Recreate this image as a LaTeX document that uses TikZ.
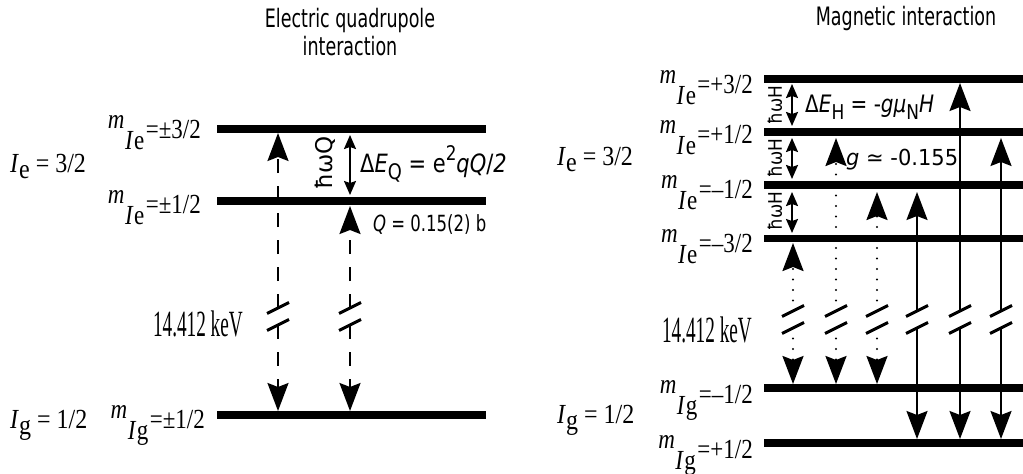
\documentclass[tikz,border=0pt]{standalone}
\usepackage{fontspec}
\setmainfont{Liberation Serif}
\newfontfamily\djv{DejaVu Sans}
\usetikzlibrary{arrows.meta}
\newcommand\vsc[2]{\scalebox{1}[#1]{#2}}
\newcommand\lo[1]{\raisebox{-0.28em}{\scalebox{0.85}{#1}}}
\newcommand\hi[1]{\raisebox{0.45em}{\scalebox{0.8}{#1}}}
\newcommand\mlab[2]{\vsc{1.2}{\raisebox{0.36em}{\textit{m}}\kern0.5pt\raisebox{-0.42em}{\textit{I}\kern0.5pt#1}\kern1.5pt=#2}}
\newcommand\biglab[2]{\vsc{1.15}{\textit{I}\raisebox{-0.25em}{#1}\ =\ #2}}
\begin{document}
\begin{tikzpicture}[x=1pt,y=-1pt,
  lvl/.style={line width=7.5pt},
  tr/.style={line width=2pt},
  tipb/.style={-{Stealth[length=28pt,width=21pt,inset=4pt]}},
  dsh/.style={dash pattern=on 14pt off 13pt},
  dts/.style={line cap=round,dash pattern=on 0pt off 10.5pt,line width=2.4pt},
  brk/.style={line width=3pt},
  sm/.style={line width=1.8pt,{Stealth[length=14pt,width=12pt,inset=2pt]}-{Stealth[length=14pt,width=12pt,inset=2pt]}},
  ttl/.style={font=\djv\fontsize{17.5}{28}\selectfont,align=center},
  ser/.style={font=\fontsize{23}{26}\selectfont,inner sep=0pt},
  bser/.style={font=\fontsize{24}{30}\selectfont,inner sep=0pt},
  kev/.style={font=\fontsize{37}{40}\selectfont,inner sep=0pt},
  dj/.style={font=\djv\fontsize{21}{24}\selectfont,inner sep=0pt},
  djs/.style={font=\djv\fontsize{16.5}{18}\selectfont,inner sep=0pt},
  djr/.style={font=\djv\fontsize{23}{24}\selectfont,inner sep=0pt,rotate=90}
]
\useasboundingbox (0,0) rectangle (1023,474);
% titles
\node[ttl] (t1) at (350,32) {\vsc{1.45}{Electric quadrupole}\\\vsc{1.45}{interaction}};
\node[ttl] (t2) at (906,18) {\vsc{1.45}{Magnetic interaction}};
% ---------------- left panel levels
\coordinate (L3a) at (217,129); \coordinate (L3b) at (486,129);
\coordinate (L1a) at (217,201); \coordinate (L1b) at (486,201);
\coordinate (Lga) at (217,415); \coordinate (Lgb) at (486,415);
\draw[lvl] (L3a) -- (L3b);
\draw[lvl] (L1a) -- (L1b);
\draw[lvl] (Lga) -- (Lgb);
% left labels
\node[bser,anchor=base west] (le) at (10,172) {\biglab{e}{3/2}};
\node[bser,anchor=base west] (lg) at (10,428) {\biglab{g}{1/2}};
\node[ser,anchor=base east] (m1) at (201,138) {\mlab{e}{±3/2}};
\node[ser,anchor=base east] (m2) at (201,213) {\mlab{e}{±1/2}};
\node[ser,anchor=base east] (m3) at (205,428) {\mlab{g}{±1/2}};
\node[kev,anchor=base east] (k1) at (243,336) {\scalebox{0.52}[1]{14.412 keV}};
% left arrows
\coordinate (A1t) at (278,133); \coordinate (A1b) at (278,411);
\coordinate (A1u) at (278,308); \coordinate (A1d) at (278,325);
\draw[tr,dsh,tipb] (A1u) -- (A1t);
\draw[tr,dsh,tipb] (A1d) -- (A1b);
\coordinate (A2t) at (350,206); \coordinate (A2b) at (350,411);
\coordinate (A2u) at (350,308); \coordinate (A2d) at (350,325);
\draw[tr,dsh,tipb] (A2u) -- (A2t);
\draw[tr,dsh,tipb] (A2d) -- (A2b);
\foreach \p in {A1u,A1d,A2u,A2d}
  \draw[brk] ([shift={(-11,5.5)}]\p) -- ([shift={(11,-5.5)}]\p);
\coordinate (Q1) at (350,135); \coordinate (Q2) at (350,195);
\draw[sm] (Q1) -- (Q2);
\node[djr] (hq) at (325,163) {\vsc{1.0}{ħωQ}};
\node[dj,anchor=west] (dq) at (360,164) {\vsc{1.2}{Δ\textit{E}\lo{Q} = e\hi{2}\textit{qQ}/\textit{2}}};
\node[djs,anchor=west] (qq) at (373,225) {\vsc{1.35}{\textit{Q} = 0.15(2) b}};
% ---------------- right panel levels
\coordinate (R3a) at (764,79);  \coordinate (R3b) at (1023,79);
\coordinate (R1a) at (764,132); \coordinate (R1b) at (1023,132);
\coordinate (Rma) at (764,185); \coordinate (Rmb) at (1023,185);
\coordinate (Rna) at (764,238.5); \coordinate (Rnb) at (1023,238.5);
\coordinate (Gma) at (764,388); \coordinate (Gmb) at (1023,388);
\coordinate (Gpa) at (764,443); \coordinate (Gpb) at (1023,443);
\foreach \a/\b in {R3a/R3b,R1a/R1b,Rma/Rmb,Rna/Rnb,Gma/Gmb,Gpa/Gpb}
  \draw[lvl] (\a) -- (\b);
% right labels
\node[bser,anchor=base west] (re) at (557,165) {\biglab{e}{3/2}};
\node[bser,anchor=base west] (rg) at (557,423) {\biglab{g}{1/2}};
\node[ser,anchor=base east] (n1) at (753,93) {\mlab{e}{+3/2}};
\node[ser,anchor=base east] (n2) at (753,143) {\mlab{e}{+1/2}};
\node[ser,anchor=base east] (n3) at (753,198) {\mlab{e}{–1/2}};
\node[ser,anchor=base east] (n4) at (753,252) {\mlab{e}{–3/2}};
\node[ser,anchor=base east] (n5) at (753,403) {\mlab{g}{–1/2}};
\node[ser,anchor=base east] (n6) at (753,458) {\mlab{g}{+1/2}};
\node[kev,anchor=base east] (k2) at (752,342) {\scalebox{0.52}[1]{14.412 keV}};
% right arrows
\foreach \n/\x/\t/\b/\s in {1/793/243/384/dts,2/836/138/384/dts,3/877/192/384/dts,4/917/192/439/tr,5/960/83/439/tr,6/1001/138/439/tr}{
  \coordinate (B\n t) at (\x,\t); \coordinate (B\n b) at (\x,\b);
  \coordinate (B\n u) at (\x,311); \coordinate (B\n d) at (\x,328);
  \draw[tr,\s,tipb] (B\n u) -- (B\n t);
  \draw[tr,\s,tipb] (B\n d) -- (B\n b);
  \draw[brk] ([shift={(-11,5.5)}]B\n u) -- ([shift={(11,-5.5)}]B\n u);
  \draw[brk] ([shift={(-11,5.5)}]B\n d) -- ([shift={(11,-5.5)}]B\n d);
}
% hbar omega H arrows
\foreach \n/\t/\b/\c in {1/84/126/105,2/138/179/158,3/192/233/211}{
  \coordinate (H\n t) at (792,\t); \coordinate (H\n b) at (792,\b);
  \draw[sm] (H\n t) -- (H\n b);
  \node[djr,font=\djv\fontsize{17}{20}\selectfont] (hh\n) at (775,\c) {\vsc{1.1}{ħωH}};
}
\node[dj,anchor=west,font=\djv\fontsize{20}{22}\selectfont] (dh) at (805,107) {\vsc{1.2}{Δ\textit{E}\lo{H} = -\textit{gμ}\lo{N}\textit{H}}};
\node[dj,anchor=west] (gg) at (846,160) {\vsc{1.05}{\textit{g} ≃ -0.155}};
\end{tikzpicture}
\end{document}
